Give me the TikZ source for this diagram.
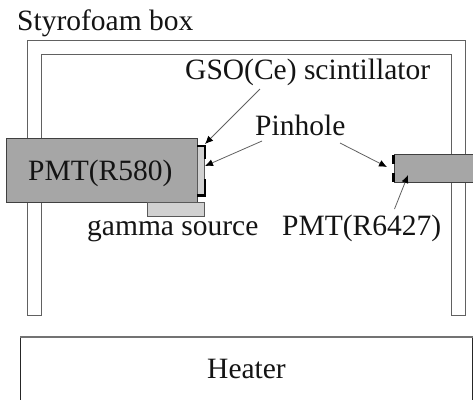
\documentclass[tikz,border=0pt]{standalone}
\usepackage{fontspec}
\setmainfont{Liberation Serif}
\usetikzlibrary{arrows.meta}
\tikzset{
  x=1pt,y=-1pt,
  wall/.style={draw=black!62,line width=1pt,fill=none},
  pmt/.style={draw=black!75,line width=1pt,fill=black!35,inner sep=0pt,outer sep=0pt,anchor=north west},
  light/.style={draw=black!65,line width=1pt,fill=black!18,inner sep=0pt,outer sep=0pt,anchor=north west},
  lbl/.style={font=\fontsize{29.5}{30}\selectfont,inner sep=0pt,anchor=base west,text=black!92},
  pin/.style={line width=2.6pt,black},
  arr/.style={draw=black!62,line width=.8pt,-{Latex[length=8pt,width=7pt,black]}}
}
\begin{document}
\begin{tikzpicture}
\useasboundingbox (0,0) rectangle (473,400);
\fill[white] (0,0) rectangle (473,400);
% styrofoam box
\draw[wall] (27.5,315.5) -- (27.5,40) -- (465,40) -- (465,315.5) -- (451,315.5) -- (451,54) -- (41.5,54) -- (41.5,315.5) -- cycle;
% PMTs and parts
\node[pmt,minimum width=191pt,minimum height=64pt] (big) at (6,138) {};
\node[pmt,minimum width=80pt,minimum height=28pt] (small) at (394.5,154) {};
\node[light,minimum width=57pt,minimum height=14pt] (source) at (147.5,202) {};
\node[light,minimum width=7pt,minimum height=49pt] (scint) at (197,146) {};
% pinhole collimators
\draw[pin] (197,146) -- (205,146) -- (205,159);
\draw[pin] (197,195.5) -- (205,195.5) -- (205,179);
\draw[pin] (393.5,155) -- (393.5,164);
\draw[pin] (393.5,173) -- (393.5,182);
% heater
\draw[black!85,line width=.8pt] (20.5,337) -- (20.5,400);
\draw[black!85,line width=.8pt] (472,337) -- (472,400);
\draw[black!55,line width=1.6pt] (20,337) -- (473,337);
\coordinate (heater) at (246,370);
% labels
\node[lbl] (t1) at (17,30) {Styrofoam box};
\node[lbl] (t2) at (185,79) {GSO(Ce) scintillator};
\node[lbl] (t3) at (255,135) {Pinhole};
\node[lbl] (t4) at (28,180) {PMT(R580)};
\node[lbl] (t5) at (87,235) {gamma source};
\node[lbl] (t6) at (282,235) {PMT(R6427)};
\node[lbl] (t7) at (207,378) {Heater};
% arrows
\coordinate (a1) at (260,89);
\coordinate (p1) at (205,144);
\coordinate (a2) at (262,141);
\coordinate (p2) at (205,166);
\coordinate (a3) at (340,143);
\coordinate (p3) at (387,167);
\coordinate (a4) at (394.5,209);
\coordinate (p4) at (408,175);
\draw[arr] (a1) -- (p1);
\draw[arr] (a2) -- (p2);
\draw[arr] (a3) -- (p3);
\draw[arr] (a4) -- (p4);
\end{tikzpicture}
\end{document}
